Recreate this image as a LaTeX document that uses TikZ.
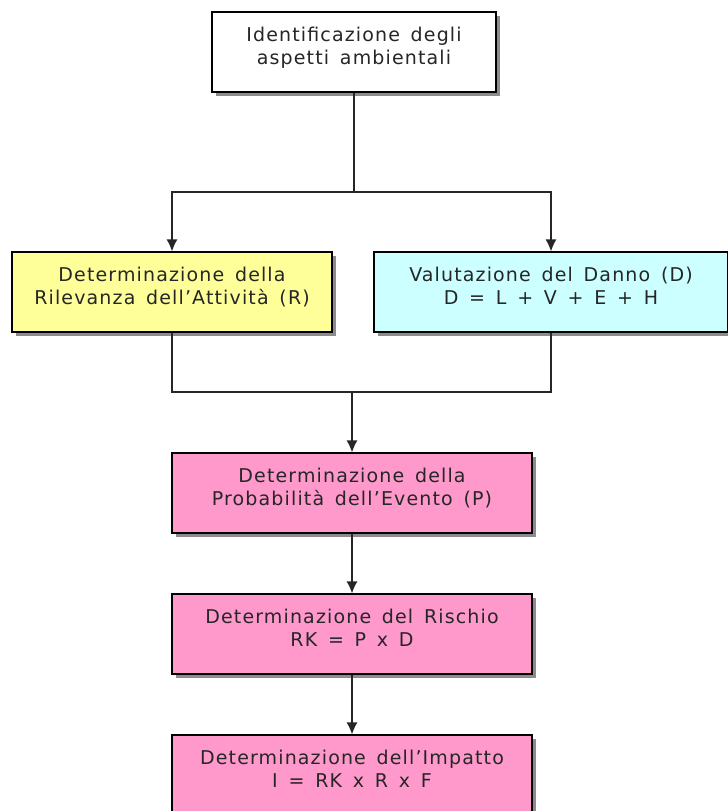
\documentclass[tikz,border=0pt]{standalone}
\usepackage{fontspec}
\setmainfont{DejaVu Sans}[LetterSpace=6,WordSpace=1.5]
\usetikzlibrary{arrows.meta,shadows}

\definecolor{relyellow}{HTML}{FFFF99}
\definecolor{dancyan}{HTML}{CCFFFF}
\definecolor{stepink}{HTML}{FF99CC}

\tikzset{
  stage/.style={draw=black, line width=1.2pt, fill=white, align=center,
    minimum height=80pt, inner sep=0pt, text depth=28pt, text height=52pt,
    font=\fontsize{19}{23}\selectfont, text=black!85,
    drop shadow={shadow xshift=4pt, shadow yshift=-4pt, fill=black!45, opacity=1}},
  flow/.style={line width=1.3pt, draw=black!85},
  flowarrow/.style={flow, -{Latex[length=12pt,width=11pt]}}
}

\begin{document}
\begin{tikzpicture}[x=1pt,y=1pt]
\useasboundingbox[fill=white] (0,0) rectangle (728,-811);

% boxes of the procedure
\node[stage, minimum width=284pt] (ident) at (354,-52)
  {Identificazione degli\\aspetti ambientali};
\node[stage, fill=relyellow, minimum width=320pt] (rel) at (172,-292)
  {Determinazione della\\Rilevanza dell’Attività (R)};
\node[stage, fill=dancyan, minimum width=354pt] (danno) at (551,-292)
  {Valutazione del Danno (D)\\D = L + V + E + H};
\node[stage, fill=stepink, minimum width=360pt] (prob) at (352,-493)
  {Determinazione della\\Probabilità dell’Evento (P)};
\node[stage, fill=stepink, minimum width=360pt] (rischio) at (352,-634)
  {Determinazione del Rischio\\RK = P x D};
\node[stage, fill=stepink, minimum width=360pt] (impatto) at (352,-775)
  {Determinazione dell’Impatto\\I = RK x R x F};

% branch points
\coordinate (split) at (354,-192);
\coordinate (join) at (352,-392);

\draw[flow] (ident.south) -- (split);
\draw[flowarrow] (split) -| (rel.north);
\draw[flowarrow] (split) -| (danno.north);
\draw[flow] (rel.south) |- (join);
\draw[flow] (danno.south) |- (join);
\draw[flowarrow] (join) -- (prob.north);
\draw[flowarrow] (prob.south) -- (rischio.north);
\draw[flowarrow] (rischio.south) -- (impatto.north);
\end{tikzpicture}
\end{document}
